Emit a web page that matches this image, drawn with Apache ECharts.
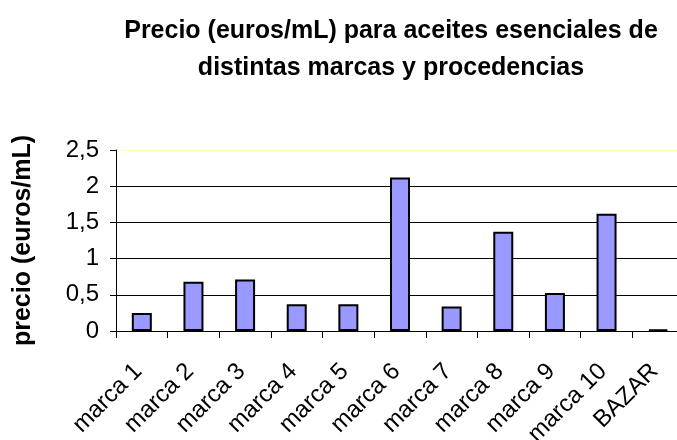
<!DOCTYPE html>
<html>
<head>
<meta charset="utf-8">
<script src="https://cdn.jsdelivr.net/npm/echarts@6/dist/echarts.min.js"></script>
<style>
  html, body { margin: 0; padding: 0; background: #ffffff; }
  #chart { width: 677px; height: 440px; }
</style>
</head>
<body>
<div id="chart"></div>
<script>
// Price per mL of essential oils by brand / origin
const categories = ['marca 1', 'marca 2', 'marca 3', 'marca 4', 'marca 5', 'marca 6',
                    'marca 7', 'marca 8', 'marca 9', 'marca 10', 'BAZAR'];
const precios = [0.25, 0.68, 0.71, 0.37, 0.37, 2.12, 0.34, 1.37, 0.525, 1.62, 0.02];
const yTicks = [0, 0.5, 1, 1.5, 2, 2.5];

const titleText = 'Precio (euros/mL) para aceites esenciales de\ndistintas marcas y procedencias';
const yName = 'precio (euros/mL)';

const FONT = "'Liberation Sans', Arial, sans-serif";

const chart = echarts.init(document.getElementById('chart'), null, { renderer: 'canvas' });

chart.setOption({
  animation: false,
  backgroundColor: '#ffffff',
  title: {
    text: titleText,
    left: 386,
    top: 8,
    textAlign: 'center',
    textStyle: {
      fontFamily: FONT,
      fontWeight: 'bold',
      fontSize: 25,
      lineHeight: 37,
      color: '#000000'
    }
  },
  grid: {
    left: 116,
    right: -7,
    top: 150,
    bottom: 109,
    containLabel: false,
    outerBoundsMode: 'none'
  },
  xAxis: {
    type: 'category',
    data: categories,
    boundaryGap: true,
    axisLine: { show: true, lineStyle: { color: '#000000', width: 1 } },
    axisTick: { show: true, alignWithLabel: false, length: 7, lineStyle: { color: '#000000' } },
    axisLabel: {
      interval: 0,
      rotate: 45,
      margin: 33,
      padding: [0, 5, 0, 0],
      fontFamily: FONT,
      fontSize: 24,
      color: '#000000'
    },
    splitLine: { show: false }
  },
  yAxis: {
    type: 'value',
    min: yTicks[0],
    max: yTicks[yTicks.length - 1],
    interval: 0.5,
    name: yName,
    nameLocation: 'middle',
    nameGap: 80,
    nameRotate: 90,
    nameTextStyle: {
      fontFamily: FONT,
      fontWeight: 'bold',
      fontSize: 25,
      color: '#000000'
    },
    axisLine: { show: true, lineStyle: { color: '#000000', width: 1 } },
    axisTick: { show: true, length: 6, lineStyle: { color: '#000000' } },
    axisLabel: {
      margin: 17,
      fontFamily: FONT,
      fontSize: 24,
      color: '#000000',
      formatter: v => String(v).replace('.', ',')
    },
    splitLine: {
      show: true,
      lineStyle: {
        color: ['#000000', '#000000', '#000000', '#000000', '#000000', '#ffffb8'],
        width: 1
      }
    }
  },
  series: [{
    type: 'bar',
    data: precios,
    barWidth: 20,
    itemStyle: {
      color: '#9999ff',
      borderColor: '#000000',
      borderWidth: 2
    }
  }]
});
</script>
</body>
</html>
